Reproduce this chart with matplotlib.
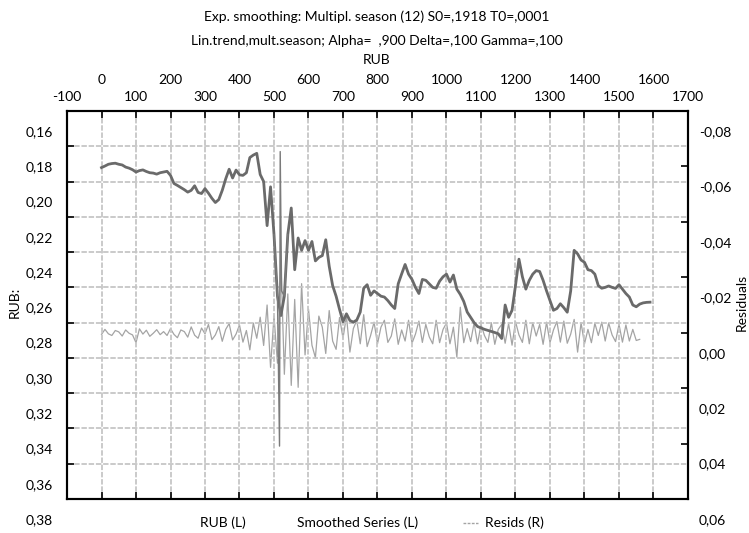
import numpy as np
import matplotlib.pyplot as plt
import matplotlib.transforms as mtransforms
from matplotlib.lines import Line2D

plt.rcParams['font.family'] = ['Lato', 'DejaVu Sans']
plt.rcParams['font.size'] = 10

# RUB series, read every 10 steps (left axis)
rub_x = np.arange(0, 1600, 10)
rub = [
    0.1921, 0.1912, 0.1902, 0.1898, 0.1896, 0.1902, 0.1906, 0.1918, 0.1924, 0.1933,
    0.1946, 0.1938, 0.1934, 0.1943, 0.1950, 0.1952, 0.1958, 0.1950, 0.1946, 0.1942,
    0.1965, 0.2011, 0.2022, 0.2034, 0.2046, 0.2060, 0.2050, 0.2024, 0.2062, 0.2068,
    0.2040, 0.2066, 0.2095, 0.2119, 0.2102, 0.2050, 0.1985, 0.1930, 0.1980, 0.1935,
    0.1962, 0.1965, 0.1950, 0.1864, 0.1850, 0.1840, 0.1960, 0.2000, 0.2250, 0.2030,
    0.2300, 0.2650, 0.2760, 0.2650, 0.2300, 0.2150, 0.2500, 0.2320, 0.2390, 0.2335,
    0.2390, 0.2340, 0.2450, 0.2430, 0.2420, 0.2330, 0.2480, 0.2590, 0.2650, 0.2725,
    0.2795, 0.2750, 0.2788, 0.2797, 0.2785, 0.2740, 0.2605, 0.2585, 0.2645, 0.2620,
    0.2635, 0.2650, 0.2655, 0.2675, 0.2700, 0.2720, 0.2580, 0.2524, 0.2470, 0.2525,
    0.2555, 0.2600, 0.2635, 0.2555, 0.2560, 0.2580, 0.2600, 0.2605, 0.2565, 0.2540,
    0.2525, 0.2570, 0.2530, 0.2610, 0.2640, 0.2680, 0.2740, 0.2770, 0.2800, 0.2822,
    0.2830, 0.2838, 0.2844, 0.2850, 0.2856, 0.2863, 0.2890, 0.2700, 0.2770, 0.2730,
    0.2590, 0.2440, 0.2540, 0.2610, 0.2560, 0.2525, 0.2505, 0.2510, 0.2560, 0.2620,
    0.2675, 0.2730, 0.2720, 0.2693, 0.2715, 0.2741, 0.2620, 0.2390, 0.2410, 0.2445,
    0.2458, 0.2500, 0.2505, 0.2525, 0.2590, 0.2605, 0.2600, 0.2592, 0.2600, 0.2606,
    0.2585, 0.2610, 0.2635, 0.2655, 0.2700, 0.2710, 0.2695, 0.2688, 0.2685, 0.2684,
]

# smoothed series only where it leaves the RUB line (the overshoot at the crash)
smooth_x = [500, 510, 516, 518, 522, 530, 540]
smooth = [0.2300, 0.2650, 0.3500, 0.1830, 0.2620, 0.2650, 0.2300]

# residuals (right axis)
resid_x = np.arange(0, 1570, 10)
resid = [
    0.0006, -0.0012, 0.0004, 0.0010, -0.0008, -0.0003, 0.0012, -0.0010, 0.0002, 0.0008,
    0.0036, -0.0014, 0.0005, -0.0009, 0.0013, 0.0002, -0.0011, 0.0007, -0.0004, 0.0010,
    -0.0015, 0.0006, 0.0018, -0.0010, -0.0004, 0.0016, -0.0021, 0.0009, 0.0020, -0.0017,
    0.0004, -0.0030, 0.0025, 0.0008, -0.0022, 0.0031, -0.0012, -0.0033, 0.0026, 0.0005,
    -0.0028, 0.0034, -0.0008, 0.0062, -0.0035, 0.0020, -0.0056, 0.0046, -0.0100, 0.0125,
    -0.0060, 0.0110, -0.0260, 0.0150, -0.0140, 0.0190, -0.0120, 0.0197, -0.0177, 0.0080,
    -0.0085, 0.0045, 0.0090, -0.0060, -0.0020, 0.0075, -0.0080, 0.0030, 0.0060, -0.0055,
    0.0020, -0.0060, 0.0070, -0.0015, -0.0045, 0.0040, -0.0065, 0.0050, 0.0010, -0.0038,
    0.0040, -0.0020, -0.0045, 0.0035, 0.0012, -0.0050, 0.0042, -0.0010, 0.0030, -0.0045,
    0.0038, 0.0005, -0.0042, 0.0035, -0.0030, 0.0015, 0.0040, -0.0045, 0.0036, -0.0012,
    -0.0035, 0.0040, -0.0020, 0.0088, -0.0092, 0.0036, -0.0015, 0.0032, -0.0035, 0.0040,
    -0.0030, 0.0010, 0.0035, -0.0036, 0.0042, -0.0012, -0.0030, 0.0038, -0.0033, 0.0045,
    -0.0040, 0.0008, 0.0035, -0.0045, 0.0040, -0.0036, 0.0012, -0.0030, 0.0042, -0.0038,
    0.0036, -0.0010, -0.0040, 0.0034, -0.0042, 0.0038, 0.0005, -0.0048, 0.0070, -0.0036,
    0.0040, -0.0012, 0.0036, -0.0034, 0.0010, -0.0038, 0.0030, -0.0035, 0.0008, 0.0032,
    -0.0030, 0.0034, -0.0028, 0.0030, -0.0012, 0.0028, 0.0024,
]

x_ticks = list(range(-100, 1800, 100))
left_ticks = [0.16, 0.18, 0.20, 0.22, 0.24, 0.26, 0.28, 0.30, 0.32, 0.34, 0.36, 0.38]
right_ticks = [-0.08, -0.06, -0.04, -0.02, 0.00, 0.02, 0.04, 0.06]

title1 = 'Exp. smoothing: Multipl. season (12) S0=,1918 T0=,0001'
title2 = 'Lin.trend,mult.season; Alpha=  ,900 Delta=,100 Gamma=,100'

W, H = 749, 533
fig = plt.figure(figsize=(W / 100, H / 100), dpi=100)
ax = fig.add_axes([67 / W, 1 - 499 / H, 621 / W, 388 / H])
ax2 = ax.twinx()

line_col = '#6a6a6a'
res_col = '#a4a4a4'
grid_col = '#c6c6c6'

ax2.plot(resid_x, resid, color=res_col, lw=0.9)
ax.plot(rub_x, rub, color=line_col, lw=2.0)
ax.plot(smooth_x, smooth, color='#7a7a7a', lw=1.0)

ax.set_zorder(ax2.get_zorder() + 1)
ax.patch.set_visible(False)

ax.set_xlim(-100, 1700)
ax.set_ylim(0.38, 0.16)
ax2.set_ylim(0.06, -0.08)

ax.set_xticks(x_ticks)
ax.set_yticks(left_ticks)
ax2.set_yticks(right_ticks)

ax.set_xticklabels([str(v) for v in x_ticks])
ax.set_yticklabels([f'{v:.2f}'.replace('.', ',') for v in left_ticks])
ax2.set_yticklabels([f'{v:.2f}'.replace('.', ',') for v in right_ticks])

ax.tick_params(axis='x', top=True, bottom=True, labeltop=True, labelbottom=False,
               direction='in', length=5, width=1.2, pad=6)
ax.tick_params(axis='y', direction='in', length=5, width=1.2, pad=10)
ax2.tick_params(axis='y', direction='in', length=5, width=1.2, pad=8)

ax.grid(True, color=grid_col, ls=(0, (3, 1)), lw=1.3)
for a in (ax, ax2):
    for s in a.spines.values():
        s.set_linewidth(1.5)

# tick labels sit a bit below their ticks in the original export
down = mtransforms.ScaledTranslation(0, -0.20, fig.dpi_scale_trans)
for lab in ax.get_yticklabels():
    lab.set_transform(lab.get_transform() + down)
for lab in ax2.get_yticklabels():
    lab.set_transform(lab.get_transform() + down)

# even hundreds on an upper row
up = mtransforms.ScaledTranslation(0, 0.17, fig.dpi_scale_trans)
for v, lab in zip(x_ticks, ax.get_xticklabels()):
    if v % 200 == 0:
        lab.set_transform(lab.get_transform() + up)

fig.text(377 / W, 1 - 17 / H, title1, ha='center', va='center')
fig.text(377 / W, 1 - 41 / H, title2, ha='center', va='center')
fig.text(377 / W, 1 - 60 / H, 'RUB', ha='center', va='center')

fig.text(15 / W, 1 - 302 / H, 'RUB:', rotation=90, ha='center', va='center')
fig.text(742 / W, 1 - 302 / H, 'Residuals', rotation=90, ha='center', va='center')

# legend row
ly = 1 - 523 / H
fig.text(200 / W, ly, 'RUB (L)', va='center')
fig.text(297 / W, ly, 'Smoothed Series (L)', va='center')
fig.add_artist(Line2D([463 / W, 478 / W], [ly, ly], color=res_col, lw=1.0, ls=(0, (2, 1))))
fig.text(485 / W, ly, 'Resids (R)', va='center')

fig.savefig('out.png', dpi=100)
